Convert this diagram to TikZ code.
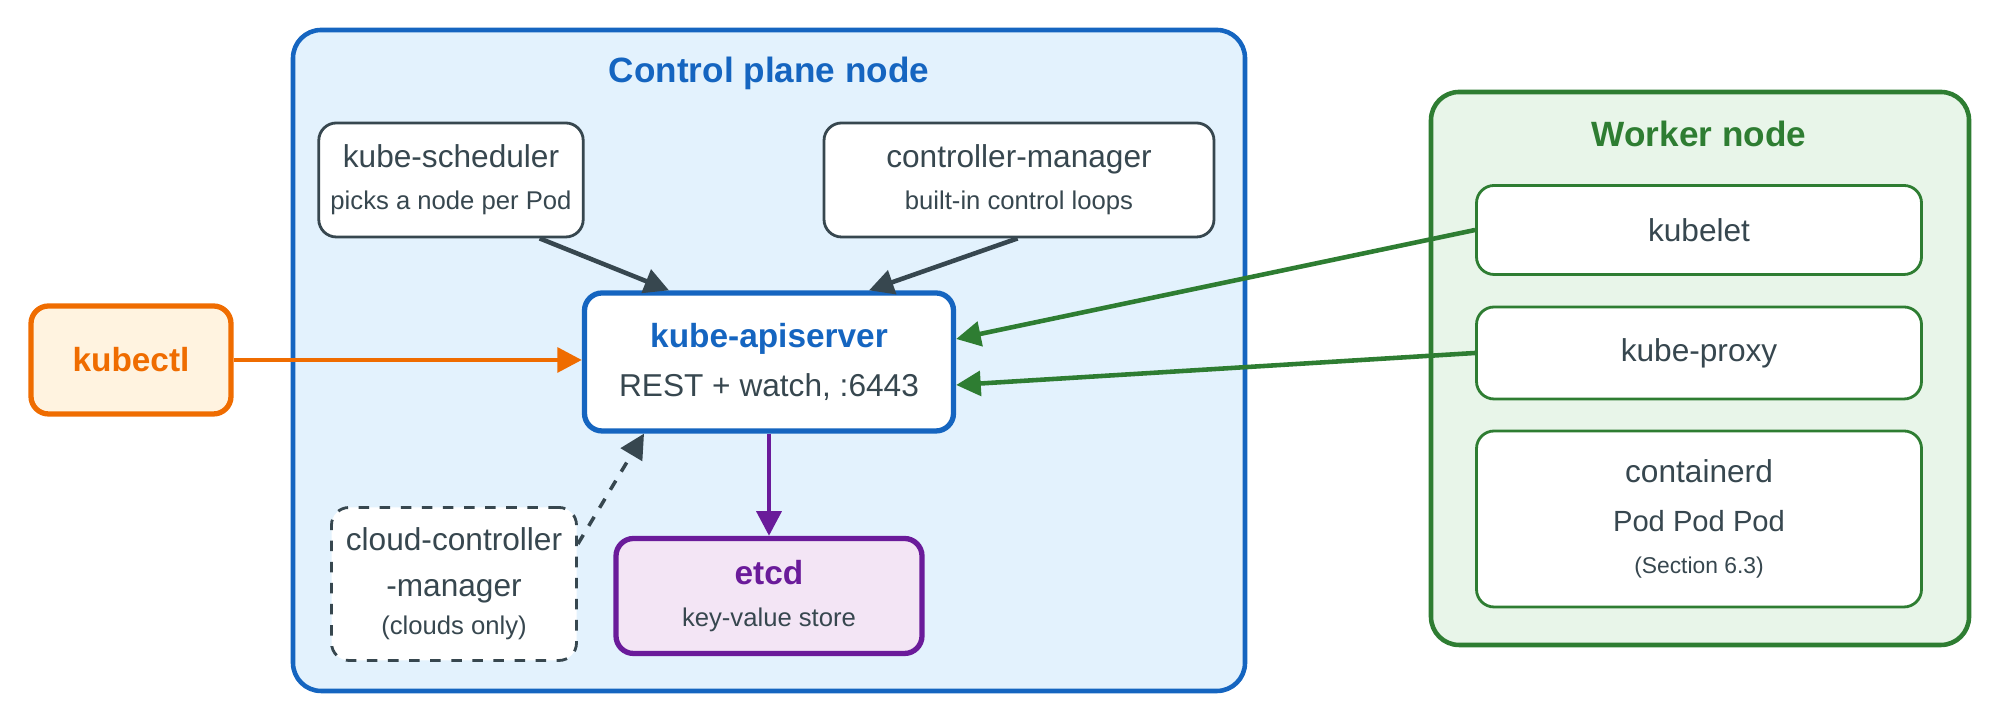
\documentclass[tikz,border=0pt]{standalone}
\usepackage{fontspec}
\setmainfont{Liberation Sans}
\usetikzlibrary{positioning, arrows.meta}
\definecolor{cpblue}{HTML}{1565C0}
\definecolor{cpfill}{HTML}{E3F2FD}
\definecolor{wkgreen}{HTML}{2E7D32}
\definecolor{wkfill}{HTML}{E8F5E9}
\definecolor{ctlorange}{HTML}{EF6C00}
\definecolor{ctlfill}{HTML}{FFF3E0}
\definecolor{etcdpurple}{HTML}{6A1B9A}
\definecolor{etcdfill}{HTML}{F3E5F5}
\definecolor{slate}{HTML}{37474F}
\newcommand{\subtxt}{\fontsize{7.3}{9}\selectfont}
\tikzset{
  comp/.style={draw=slate, thick, fill=white, rounded corners=5pt, align=center, text=slate, font=\fontsize{9}{13}\selectfont},
  conn/.style={-{Triangle[length=7pt,width=7pt]}, line width=1.3pt, draw=slate}
}
\begin{document}
\begin{tikzpicture}
  \useasboundingbox (0,0) rectangle (20,7.23);
  % Control plane
  \draw[cpblue, line width=1.3pt, fill=cpfill, rounded corners=8pt] (2.93,0.32) rectangle (12.45,6.93);
  \node[text=cpblue, font=\bfseries\fontsize{10}{12}\selectfont] (cptitle) at (7.69,6.50) {Control plane node};
  % Worker
  \draw[wkgreen, line width=1.3pt, fill=wkfill, rounded corners=8pt] (14.31,0.78) rectangle (19.69,6.31);
  \node[text=wkgreen, font=\bfseries\fontsize{10}{12}\selectfont] (wktitle) at (16.99,5.89) {Worker node};
  % Components
  \node[comp, minimum width=2.38cm, minimum height=1.14cm] (sched) at (4.51,5.43) {kube-scheduler\\[-1pt]{\subtxt picks a node per Pod}};
  \node[comp, minimum width=3.9cm, minimum height=1.14cm] (cm) at (10.19,5.43) {controller-manager\\[-1pt]{\subtxt built-in control loops}};
  \node[comp, draw=cpblue, line width=1.5pt, minimum width=3.69cm, minimum height=1.38cm] (api) at (7.69,3.61)
    {{\color{cpblue}\bfseries\fontsize{9.5}{12}\selectfont kube-apiserver}\\[1pt]REST + watch, :6443};
  \node[comp, dashed, minimum width=2.45cm, minimum height=1.53cm] (ccm) at (4.54,1.39)
    {cloud-controller\\-manager\\[-2pt]{\subtxt (clouds only)}};
  \node[comp, draw=etcdpurple, fill=etcdfill, line width=1.5pt, minimum width=3.06cm, minimum height=1.15cm] (etcd) at (7.69,1.27)
    {{\color{etcdpurple}\bfseries\fontsize{9.5}{12}\selectfont etcd}\\[-1pt]{\subtxt key-value store}};
  \node[comp, draw=ctlorange, fill=ctlfill, line width=1.5pt, text=ctlorange, font=\bfseries\fontsize{9.5}{12}\selectfont,
    minimum width=2.0cm, minimum height=1.08cm] (kubectl) at (1.31,3.63) {kubectl};
  \node[comp, draw=wkgreen, minimum width=4.45cm, minimum height=0.89cm] (kubelet) at (16.99,4.93) {kubelet};
  \node[comp, draw=wkgreen, minimum width=4.45cm, minimum height=0.92cm] (proxy) at (16.99,3.70) {kube-proxy};
  \node[comp, draw=wkgreen, minimum width=4.45cm, minimum height=1.76cm] (ctrd) at (16.99,2.04)
    {containerd\\[1pt]{\fontsize{8.3}{10}\selectfont Pod Pod Pod}\\[-1pt]{\fontsize{6.5}{8}\selectfont (Section 6.3)}};
  % Connectors
  \draw[conn] ([xshift=-0.45cm]sched.south east) -- ([xshift=-1.0cm]api.north);
  \draw[conn] ([xshift=1.95cm]cm.south west) -- ([xshift=1.0cm]api.north);
  \draw[conn, draw=ctlorange] (kubectl.east) -- (api.west |- kubectl.east);
  \draw[conn, draw=wkgreen] (kubelet.west) -- ([yshift=0.23cm]api.east);
  \draw[conn, draw=wkgreen] (proxy.west) -- ([yshift=-0.23cm]api.east);
  \draw[conn, draw=etcdpurple] (api.south) -- (etcd.north);
  \draw[conn, dashed, line width=1pt] ([yshift=0.4cm]ccm.east) -- ([xshift=-1.25cm]api.south);
\end{tikzpicture}
\end{document}
